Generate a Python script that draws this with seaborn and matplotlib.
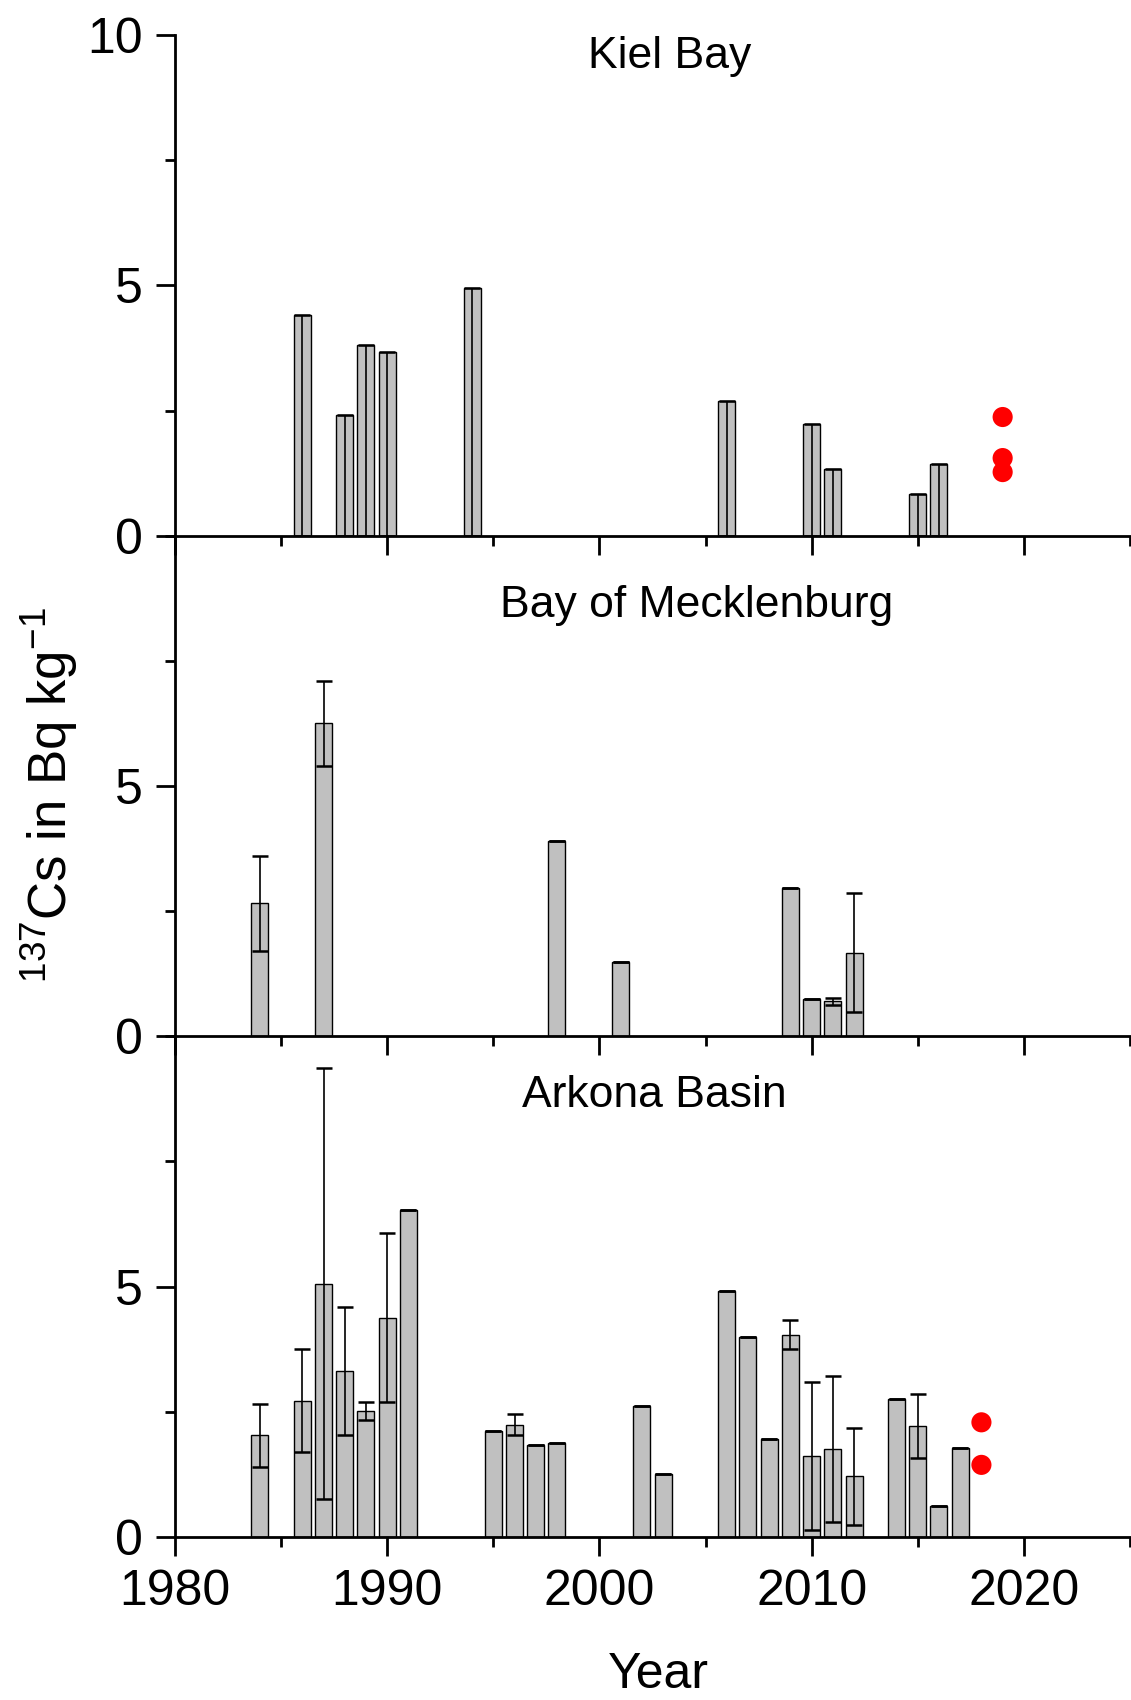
import matplotlib
matplotlib.use('Agg')
import matplotlib.pyplot as plt
from matplotlib.ticker import MultipleLocator
import seaborn as sns

# Kiel Bay
kiel_years = [1986, 1988, 1989, 1990, 1994, 2006, 2010, 2011, 2015, 2016]
kiel_cs = [4.41, 2.41, 3.81, 3.67, 4.94, 2.68, 2.24, 1.34, 0.84, 1.44]
kiel_new_years = [2019, 2019, 2019]
kiel_new_cs = [2.37, 1.55, 1.27]

# Bay of Mecklenburg
meck_years = [1984, 1987, 1998, 2001, 2009, 2010, 2011, 2012]
meck_cs = [2.66, 6.25, 3.90, 1.48, 2.96, 0.75, 0.70, 1.67]
meck_err = [0.95, 0.85, 0, 0, 0, 0, 0.07, 1.19]

# Arkona Basin
ark_years = [1984, 1986, 1987, 1988, 1989, 1990, 1991, 1995, 1996, 1997, 1998,
             2002, 2003, 2006, 2007, 2008, 2009, 2010, 2011, 2012, 2014, 2015,
             2016, 2017]
ark_cs = [2.03, 2.72, 5.06, 3.32, 2.51, 4.38, 6.54, 2.12, 2.24, 1.83, 1.87,
          2.62, 1.26, 4.91, 4.00, 1.96, 4.04, 1.61, 1.76, 1.21, 2.75, 2.22,
          0.61, 1.77]
ark_err = [0.63, 1.03, 4.30, 1.28, 0.18, 1.69, 0, 0, 0.21, 0, 0,
           0, 0, 0, 0, 0, 0.29, 1.48, 1.46, 0.97, 0, 0.64,
           0, 0]
ark_new_years = [2018, 2018]
ark_new_cs = [2.29, 1.44]

# Kiel bars: lower error line runs down to zero, no upper part
kiel_err = [kiel_cs, [0] * len(kiel_cs)]

sns.set_theme(style='ticks')
plt.rcParams['font.family'] = ['Liberation Sans', 'DejaVu Sans']
plt.rcParams['mathtext.fontset'] = 'custom'
plt.rcParams['mathtext.rm'] = 'Liberation Sans'
plt.rcParams['mathtext.it'] = 'Liberation Sans:italic'
plt.rcParams['text.color'] = 'black'
plt.rcParams['axes.edgecolor'] = 'black'
plt.rcParams['xtick.color'] = 'black'
plt.rcParams['ytick.color'] = 'black'

fig, axes = plt.subplots(3, 1, figsize=(11.31, 17.0), dpi=100)
fig.subplots_adjust(left=0.1547, right=0.9991, top=0.9794, bottom=0.0959, hspace=0)

panels = [
    ('Kiel Bay', kiel_years, kiel_cs, kiel_err, kiel_new_years, kiel_new_cs, 2003.3, 9.34),
    ('Bay of Mecklenburg', meck_years, meck_cs, meck_err, None, None, 2004.6, 8.38),
    ('Arkona Basin', ark_years, ark_cs, ark_err, ark_new_years, ark_new_cs, 2002.6, 8.58),
]

for i, (name, yrs, vals, err, new_x, new_y, tx, ty) in enumerate(panels):
    ax = axes[i]
    ax.set_facecolor('none')
    sns.barplot(x=yrs, y=vals, native_scale=True, color='#c0c0c0', saturation=1,
                edgecolor='black', linewidth=1, errorbar=None, ax=ax)
    ax.errorbar(yrs, vals, yerr=err, fmt='none', ecolor='black', elinewidth=1.2,
                capsize=6, capthick=1.8, zorder=3)
    if new_x is not None:
        sns.scatterplot(x=new_x, y=new_y, color='red', s=210, edgecolor='none',
                        ax=ax, zorder=4)

    ax.text(tx, ty, name, ha='center', va='baseline', fontsize=32)

    ax.set_xlim(1980, 2025)
    ax.set_ylim(0, 10)
    ax.xaxis.set_major_locator(MultipleLocator(10))
    ax.xaxis.set_minor_locator(MultipleLocator(5))
    ax.yaxis.set_minor_locator(MultipleLocator(2.5))
    if i == 0:
        ax.set_yticks([0, 5, 10])
    else:
        ax.set_yticks([0, 5])
    ax.set_xlabel('')
    ax.set_ylabel('')

    sns.despine(ax=ax)
    for s in ['left', 'bottom']:
        ax.spines[s].set_linewidth(2)
    ax.tick_params(which='major', length=14, width=2, labelsize=36, pad=9,
                   direction='out')
    ax.tick_params(which='minor', length=7, width=2, direction='out')
    ax.tick_params(axis='x', labelbottom=(i == 2))

fig.text(49 / 1131, 1 - 795 / 1700, r'$^{137}$Cs in Bq kg$^{-1}$', rotation=90,
         ha='center', va='center', fontsize=38)
fig.text(658 / 1131, 1 - 1688 / 1700, 'Year', ha='center', va='baseline', fontsize=36)

fig.savefig('out.png', dpi=100)
